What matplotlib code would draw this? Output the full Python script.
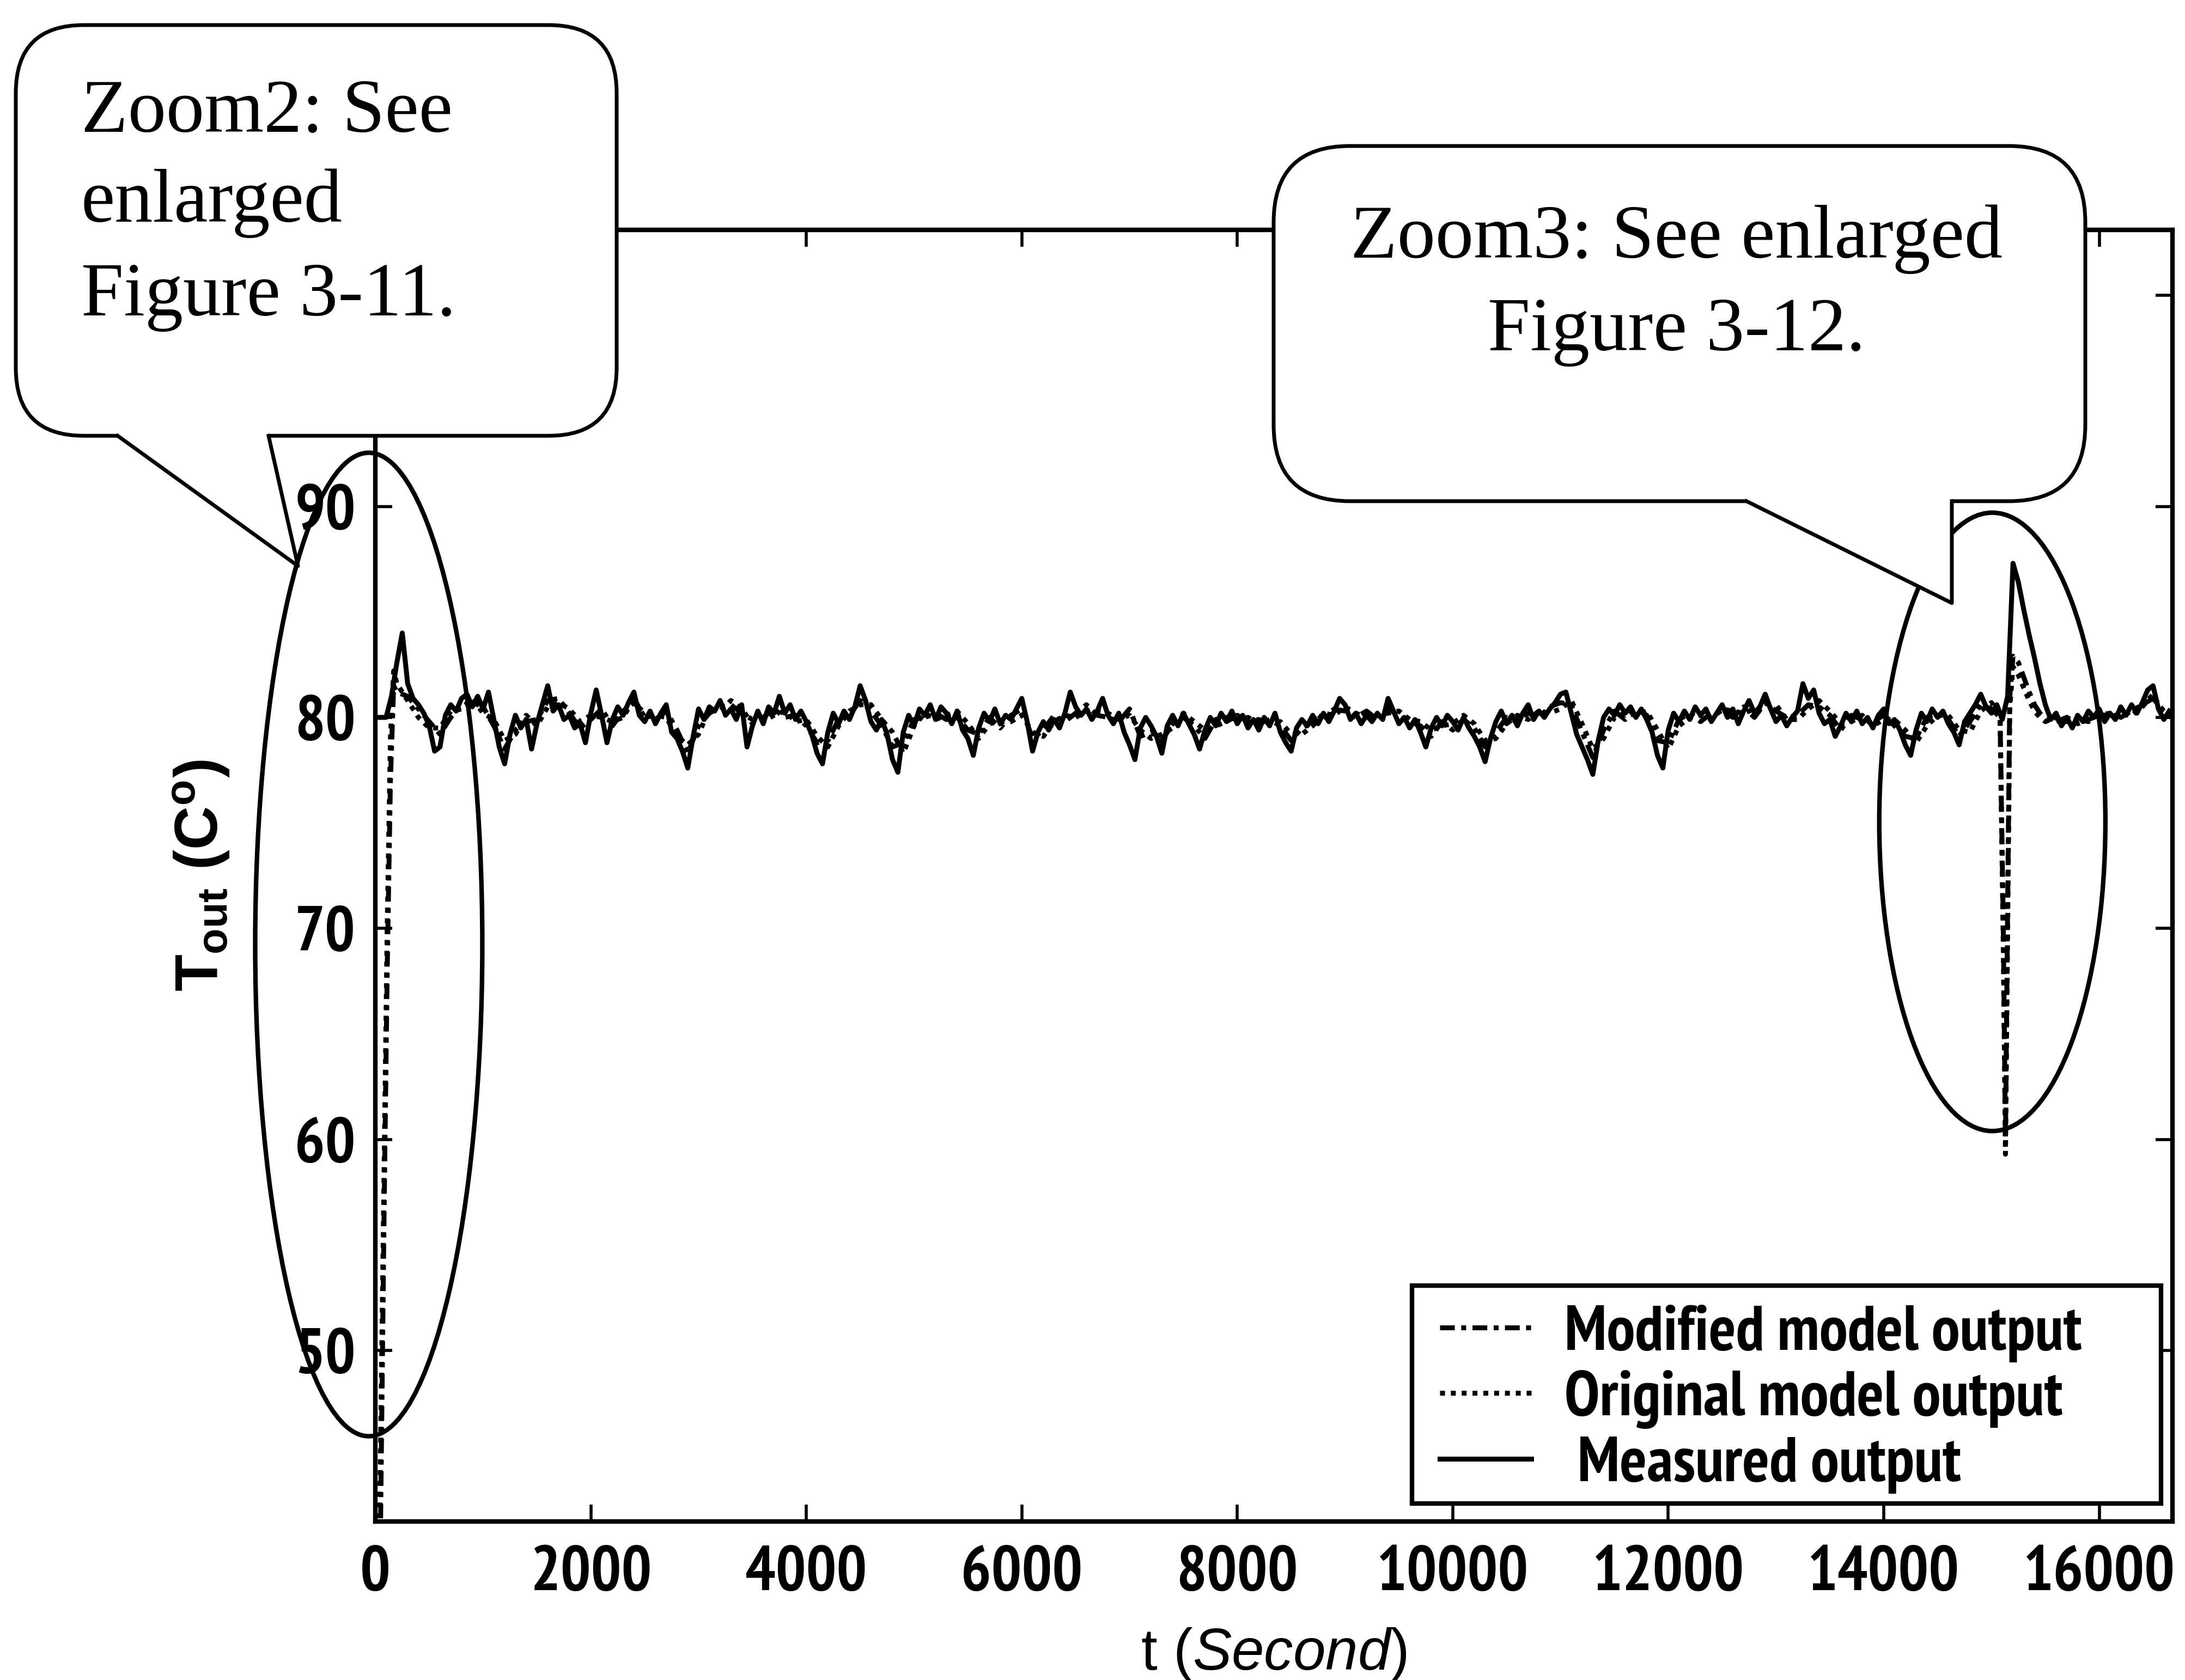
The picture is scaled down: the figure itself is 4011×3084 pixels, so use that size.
import numpy as np
import matplotlib
matplotlib.use("Agg")
import matplotlib.pyplot as plt
from matplotlib import font_manager
from matplotlib.font_manager import FontProperties
from matplotlib.patches import Ellipse, FancyBboxPatch, Polygon, Rectangle
from matplotlib.lines import Line2D

# ---- data ----
# measured outlet temperature, one value every 50 s starting at t = 0
dt_meas = 50
measured = [
    80.0, 80.0, 80.0, 81.0, 82.6, 84.0, 81.6, 80.9, 80.6, 80.2, 79.6, 78.4, 78.6, 80.1, 80.6, 80.3, 80.9, 81.1, 80.5, 81.0,
    80.4, 81.2, 79.9, 78.6, 77.8, 79.2, 80.1, 79.5, 79.9, 78.5, 79.7, 80.6, 81.5, 80.3, 80.6, 79.9, 80.1, 79.5, 79.7, 78.8,
    80.2, 81.3, 80.1, 78.8, 79.9, 80.5, 80.1, 80.7, 81.2, 80.1, 79.8, 80.3, 79.7, 80.2, 80.6, 79.3, 79.0, 78.4, 77.6, 79.1,
    80.4, 79.9, 80.5, 80.3, 80.8, 80.1, 80.4, 79.9, 80.6, 78.6, 79.6, 80.3, 79.7, 80.5, 80.2, 81.0, 80.2, 80.6, 79.9, 80.3,
    79.8, 79.2, 78.3, 77.8, 79.3, 80.2, 79.7, 80.3, 79.9, 80.5, 81.5, 80.8, 79.8, 79.4, 79.9, 79.2, 78.0, 77.4, 79.3, 80.1,
    79.6, 80.4, 80.1, 80.6, 79.9, 80.5, 80.2, 79.7, 80.3, 79.4, 79.0, 78.2, 79.5, 80.2, 79.8, 80.4, 79.7, 80.1, 79.9, 80.4,
    80.9, 79.8, 78.4, 79.3, 79.8, 79.4, 79.9, 79.5, 80.2, 81.2, 80.5, 80.1, 80.4, 79.9, 80.3, 80.9, 80.1, 79.7, 80.2, 79.3,
    78.7, 78.0, 79.5, 80.0, 79.6, 79.1, 78.3, 79.6, 80.1, 79.6, 80.2, 79.7, 79.2, 78.5, 79.4, 80.0, 79.6, 80.2, 79.8, 80.3,
    79.7, 80.1, 79.5, 79.9, 79.4, 80.0, 79.6, 80.2, 79.3, 78.8, 78.4, 79.5, 79.9, 79.6, 80.1, 79.7, 80.2, 79.8, 80.3, 80.9,
    80.6, 79.9, 80.2, 79.7, 80.1, 79.8, 80.2, 79.9, 80.9, 80.3, 79.7, 80.0, 79.5, 79.9, 79.3, 78.6, 79.5, 80.0, 79.6, 80.1,
    79.8, 79.4, 80.0, 79.5, 79.1, 78.6, 77.9, 79.0, 79.8, 80.3, 79.7, 80.1, 79.6, 80.2, 80.6, 79.9, 80.3, 80.0, 80.4, 80.7,
    81.1, 81.2, 80.2, 79.2, 78.6, 78.0, 77.3, 78.9, 80.0, 80.4, 80.1, 80.6, 80.2, 80.5, 80.0, 80.4, 79.9, 79.3, 78.2, 77.6,
    79.4, 80.2, 79.8, 80.3, 79.9, 80.5, 80.1, 80.4, 79.8, 80.2, 80.6, 80.0, 80.4, 79.7, 80.3, 80.8, 80.2, 80.5, 81.1, 80.4,
    79.8, 80.1, 79.6, 80.0, 80.3, 81.6, 80.9, 81.3, 80.2, 79.7, 79.9, 79.1, 79.6, 80.2, 79.8, 80.3, 79.7, 80.0, 79.5, 80.1,
    80.4, 79.7, 79.9, 79.4, 78.7, 78.2, 79.4, 80.2, 79.8, 80.4, 80.0, 80.3, 79.7, 79.3, 78.7, 79.8, 80.2, 80.6, 81.1, 80.5,
    80.2, 80.6, 79.9, 81.0, 87.3, 86.4, 85.1, 83.9, 82.8, 81.6, 80.6, 79.9, 80.2, 79.6, 80.0, 79.5, 80.1, 79.8, 80.3, 80.0,
    80.4, 79.8, 80.2, 79.9, 80.5, 80.1, 80.6, 80.2, 80.7, 81.3, 81.5, 80.4, 79.9, 80.3,
]

# model outputs: start-up transient, then every 100 s, then the disturbance near 15100 s
t_start = [0, 40, 80, 110, 140, 170]
modified_start = [15.0, 38.0, 56.0, 68.0, 77.0, 81.5]
original_start = [18.0, 42.0, 58.0, 70.0, 79.0, 82.2]

mid_from, mid_step = 200, 100
modified_mid = [
    81.2, 81.0, 80.4, 79.8, 79.2, 80.0, 80.6, 80.7, 80.5, 79.6,
    78.5, 79.4, 79.8, 79.9, 80.8, 80.9, 80.2, 79.5, 79.9, 80.4,
    79.6, 80.3, 80.7, 80.2, 79.9, 80.3, 79.4, 78.3, 79.6, 80.2,
    80.5, 80.6, 80.2, 79.9, 80.0, 80.4, 80.0, 80.1, 79.6, 78.8,
    78.9, 79.9, 80.1, 80.8, 80.3, 79.6, 78.6, 78.8, 79.9, 80.0,
    80.2, 79.9, 80.0, 79.4, 79.2, 80.0, 79.5, 80.1, 80.4, 79.0,
    79.4, 80.1, 79.8, 80.2, 80.6, 80.1, 80.0, 79.8, 80.4, 79.1,
    79.3, 78.9, 79.7, 80.0, 79.6, 79.0, 79.9, 80.0, 79.9, 80.0,
    79.7, 79.9, 79.6, 78.9, 79.5, 79.8, 80.0, 80.4, 80.3, 80.0,
    80.3, 79.9, 80.5, 80.0, 79.8, 79.6, 79.1, 79.8, 79.4, 79.9,
    79.5, 78.6, 79.3, 80.0, 79.9, 80.2, 80.0, 80.5, 80.7, 80.6,
    79.3, 78.1, 79.4, 80.3, 79.9, 80.4, 80.1, 78.9, 78.8, 79.9,
    80.2, 79.8, 80.2, 80.3, 80.0, 80.5, 80.0, 80.7, 80.3, 80.0,
    80.1, 80.6, 80.5, 80.1, 79.4, 80.1, 79.9, 79.8, 80.1, 79.6,
    79.1, 79.0, 80.0, 80.2, 79.9, 79.1, 79.8, 80.6, 80.4,
]
original_mid = [
    81.6, 80.8, 80.0, 79.5, 79.5, 80.3, 80.4, 80.9, 80.2, 79.9,
    78.9, 79.2, 80.1, 79.6, 80.5, 80.7, 80.4, 79.8, 80.1, 80.0,
    79.8, 80.0, 80.9, 80.0, 80.1, 80.0, 79.1, 78.7, 79.2, 80.4,
    80.3, 80.8, 80.4, 79.7, 79.8, 80.1, 80.3, 79.8, 79.9, 79.1,
    78.6, 79.6, 80.3, 80.6, 80.6, 79.9, 79.3, 78.3, 79.6, 80.2,
    79.9, 80.1, 80.3, 79.7, 79.0, 79.7, 79.8, 79.8, 80.1, 79.3,
    79.1, 79.8, 80.1, 80.0, 80.3, 80.3, 80.2, 79.9, 80.1, 79.4,
    79.0, 79.2, 79.5, 80.2, 79.8, 79.4, 79.6, 79.8, 80.1, 79.8,
    79.9, 79.7, 79.8, 79.2, 79.2, 79.6, 80.2, 80.1, 80.5, 80.2,
    80.0, 80.1, 80.2, 80.3, 79.9, 79.8, 79.4, 79.6, 79.7, 80.1,
    79.7, 78.9, 79.0, 79.7, 80.1, 79.9, 80.3, 80.2, 80.4, 80.8,
    79.7, 78.5, 79.0, 80.0, 80.2, 80.1, 80.3, 79.4, 78.5, 79.6,
    80.0, 80.1, 79.9, 80.4, 80.3, 80.2, 80.4, 80.4, 80.6, 79.9,
    79.9, 80.4, 80.8, 80.3, 79.7, 79.8, 80.1, 79.6, 79.9, 79.9,
    79.4, 78.8, 79.6, 80.1, 80.1, 79.4, 79.3, 80.3, 80.7,
]

t_spike = [15080, 15110, 15130, 15150, 15170, 15200, 15250, 15300, 15350, 15400, 15450, 15500]
modified_spike = [80.0, 70.0, 60.0, 71.0, 81.0, 82.9, 82.6, 81.9, 81.2, 80.6, 80.2, 79.9]
original_spike = [80.1, 69.0, 59.3, 70.0, 80.5, 82.4, 82.0, 81.4, 80.8, 80.3, 80.0, 79.8]

end_from, end_step = 15600, 100
modified_end = [79.8, 80.0, 79.7, 79.9, 80.1, 80.2, 80.0, 80.3, 80.6, 80.9, 80.3, 80.2]
original_end = [80.0, 79.8, 79.9, 79.8, 80.2, 80.0, 80.2, 80.1, 80.5, 81.1, 80.1, 80.0]

x_ticks = [0, 2000, 4000, 6000, 8000, 10000, 12000, 14000, 16000]
y_ticks = [50, 60, 70, 80, 90, 100]
legend_labels = ["Modified model output", "Original model output", " Measured output"]

# ---- assemble time axes ----
t_meas = np.arange(len(measured)) * dt_meas
t_mid = mid_from + mid_step * np.arange(len(modified_mid))
t_end = end_from + end_step * np.arange(len(modified_end))
t_model = np.concatenate([t_start, t_mid, t_spike, t_end])
modified = np.concatenate([modified_start, modified_mid, modified_spike, modified_end])
original = np.concatenate([original_start, original_mid, original_spike, original_end])


# ---- fonts: a narrow bold sans for ticks and legend ----
def weight_of(f):
    w = f.weight
    return w if isinstance(w, int) else font_manager.weight_dict.get(w, 400)


def narrow_bold():
    cands = ["Liberation Sans Narrow", "Arial Narrow", "Nimbus Sans Narrow", "PT Sans Narrow",
             "Roboto Condensed", "Asap Condensed", "Barlow Semi Condensed"]
    have = {(f.name, weight_of(f) >= 600) for f in font_manager.fontManager.ttflist}
    for c in cands:
        if (c, True) in have:
            return dict(family=c, weight="bold")
    return dict(family="DejaVu Sans", weight="bold", stretch="condensed")


nb = narrow_bold()
plt.rcParams["mathtext.fontset"] = "custom"
plt.rcParams["mathtext.rm"] = "Liberation Sans:bold"
plt.rcParams["mathtext.it"] = "Liberation Sans:italic"
plt.rcParams["mathtext.bf"] = "Liberation Sans:bold"

W, H, DPI = 4011, 3084, 100
fig = plt.figure(figsize=(W / DPI, H / DPI), dpi=DPI)

# size the narrow font so the legend line is as wide as in the scan (~974 px)
r = fig.canvas.get_renderer()
probe = fig.text(0, 0, "Modified model output", fontproperties=FontProperties(size=78, **nb))
nb_size = 78 * 974 / probe.get_window_extent(r).width
probe.remove()
nb_size = min(nb_size, 84)
tick_font = FontProperties(size=nb_size, **nb)
em = nb_size * DPI / 72

ax = fig.add_axes([689 / W, 1 - 2793 / H, (3988 - 689) / W, (2793 - 422) / H])

ax.plot(t_model, modified, color="black", lw=6.5, ls=(0, (3, 1.3, 1, 1.3)), label=legend_labels[0], zorder=2)
ax.plot(t_model, original, color="black", lw=6.5, ls=(0, (1, 1.2)), label=legend_labels[1], zorder=2)
ax.plot(t_meas, measured, color="black", lw=6.5, ls="-", label=legend_labels[2], zorder=3)

ax.set_xlim(0, 16680)
ax.set_ylim(41.9, 103.1)
ax.set_xticks(x_ticks)
ax.set_xticklabels([str(v) for v in x_ticks], fontproperties=tick_font)
ax.set_yticks(y_ticks)
ax.set_yticklabels([str(v) for v in y_ticks], fontproperties=tick_font)
ax.tick_params(direction="in", length=22, width=4, top=True, right=True)
ax.tick_params(axis="x", pad=32)
ax.tick_params(axis="y", pad=26)
for s in ax.spines.values():
    s.set_linewidth(6)

ax.set_xlabel(r"t ($\mathit{Second}$)", family="Liberation Sans", size=77)
ax.xaxis.set_label_coords(0.5, -0.081)
ax.set_ylabel(r"T$_{\mathrm{out}}$ (C$^{\mathrm{o}}$)", family="Liberation Sans", weight="bold", size=80)
ax.yaxis.set_label_coords(-0.080, 0.5)

# legend with its own frame
ax.add_patch(Rectangle((0.5768, 0.0139), 0.4168, 0.1687, transform=ax.transAxes,
                       fc="white", ec="black", lw=6, zorder=5))
leg = ax.legend(loc="upper left", bbox_to_anchor=(0.5923, 0.168), frameon=False,
                prop=FontProperties(size=nb_size, **nb),
                borderpad=0, borderaxespad=0, handlelength=168 / em,
                handletextpad=0.52, labelspacing=0.12)
leg.set_zorder(6)

# circled regions
ax.add_patch(Ellipse((-61, 69.24), 2108, 46.6, fill=False, ec="black", lw=6, clip_on=False, zorder=4))
ax.add_patch(Ellipse((15008, 75.05), 2099, 29.3, fill=False, ec="black", lw=6, clip_on=False, zorder=4))


# call-out bubbles, placed in figure pixels
def px(x, y):
    return (x / DPI, (H - y) / DPI)


def bubble(x0, y0, x1, y1, rad, b1, tip, b2):
    tr = fig.dpi_scale_trans
    fig.add_artist(FancyBboxPatch(px(x0, y1), (x1 - x0) / DPI, (y1 - y0) / DPI,
                                  boxstyle="round,pad=0,rounding_size=%f" % (rad / DPI),
                                  transform=tr, fc="white", ec="black", lw=5))
    fig.add_artist(Polygon([px(b1[0], b1[1] - 9), px(*b1), px(*tip), px(*b2), px(b2[0], b2[1] - 9)],
                           closed=True, transform=tr, fc="white", ec="none"))
    xs, ys = zip(px(*b1), px(*tip), px(*b2))
    fig.add_artist(Line2D(xs, ys, transform=tr, color="black", lw=5))


bubble(29, 46, 1132, 800, 125, (216, 800), (547, 1039), (493, 800))
bubble(2338, 268, 3828, 920, 140, (3206, 920), (3583, 1107), (3583, 920))

serif = dict(family="Liberation Serif", size=101, transform=fig.dpi_scale_trans, va="baseline")
for line, yb in zip(["Zoom2: See", "enlarged", "Figure 3-11."], [242, 407, 579]):
    fig.text(*px(149, yb), line, ha="left", **serif)
for line, yb in zip(["Zoom3: See enlarged", "Figure 3-12."], [473, 643]):
    fig.text(*px(3078, yb), line, ha="center", **serif)

fig.savefig("out.png", dpi=DPI)
